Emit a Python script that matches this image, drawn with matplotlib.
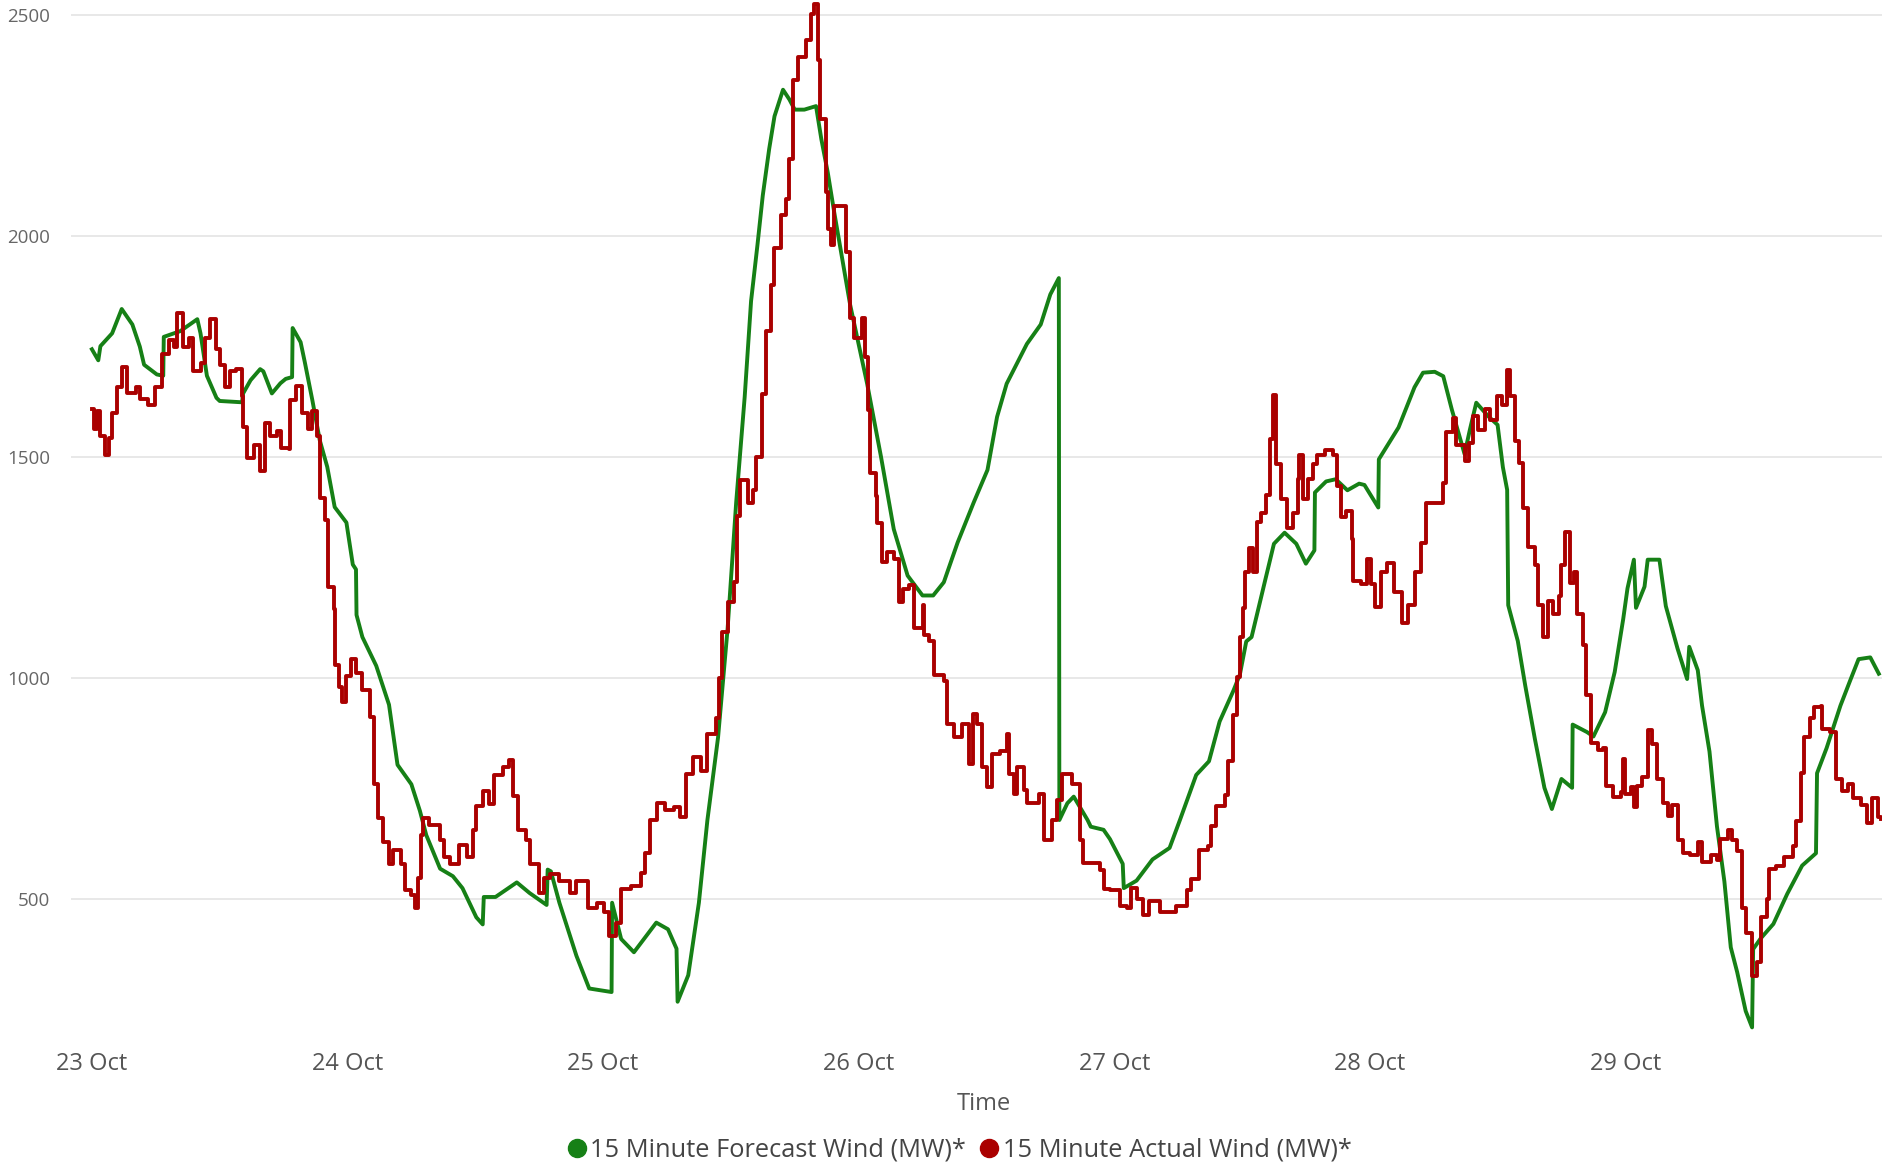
import numpy as np
import matplotlib
matplotlib.use('Agg')
import matplotlib.pyplot as plt
import matplotlib.dates as mdates
from matplotlib.lines import Line2D

plt.rcParams['font.family'] = ['Open Sans', 'DejaVu Sans']

# hours after 23 Oct 00:00
forecast_hours = [0, 0.6, 0.8, 1.9, 2.8, 3.8, 4.5, 4.9, 6.1, 6.7, 6.75, 8.3, 9.9, 10.2, 10.8, 11.7, 12.0, 14.1, 14.2, 14.9,
                  15.8, 16.1, 16.9, 17.7, 18.2, 18.8, 18.85, 19.6, 20.0, 20.7, 21.4, 22.1, 22.8, 23.9, 24.5, 24.8, 24.85,
                  25.4, 26.7, 27.9, 28.7, 30.0, 30.8, 31.4, 32.7, 33.9, 34.8, 36.1, 36.7, 36.8, 37.9, 39.9, 41.1, 42.7,
                  42.8, 43.1, 43.9, 45.5, 46.7, 48.8, 48.85, 49.7, 50.9, 53.0, 54.1, 54.9, 55.0, 56.0, 57.0, 57.8, 58.8,
                  59.7, 60.5, 61.3, 61.9, 62.5, 63.0, 63.6, 64.1, 64.9, 65.5, 66.0, 66.9, 68.0, 68.5, 69.1, 69.7, 70.4,
                  71.2, 72.2, 72.8, 74.1, 75.3, 76.6, 78.0, 79.0, 80.0, 81.3, 82.8, 84.1, 85.0, 85.9, 87.8, 89.1, 90.0,
                  90.8, 90.85, 91.6, 92.2, 93.5, 93.8, 95.0, 95.6, 96.8, 96.9, 98.1, 99.6, 101.2, 102.2, 103.7, 104.9,
                  105.9, 107.2, 107.8, 108.4, 108.9, 109.4, 110.0, 110.6, 111.0, 112.0, 113.1, 114.0, 114.8, 114.85,
                  115.9, 116.8, 117.9, 119.0, 119.5, 120.8, 120.85, 122.7, 124.2, 125.0, 126.1, 126.9, 127.7, 128.9,
                  129.4, 130.0, 131.1, 132.0, 132.5, 132.9, 133.0, 133.9, 134.6, 135.5, 136.4, 137.1, 138.0, 139.0,
                  139.05, 140.4, 141.0, 142.1, 143.0, 143.8, 144.2, 144.8, 145.0, 145.8, 146.1, 147.2, 147.8, 148.9,
                  149.8, 150.0, 150.8, 151.2, 151.9, 152.6, 153.3, 153.9, 154.5, 155.3, 155.9, 156.0, 156.7, 157.9,
                  159.2, 160.6, 161.9, 162.0, 162.9, 164.2, 165.1, 165.9, 167.0, 167.8]
forecast_mw = [1744, 1719, 1751, 1780, 1835, 1800, 1750, 1709, 1687, 1684, 1772, 1785, 1812, 1780, 1684, 1634, 1627, 1624,
               1644, 1674, 1699, 1694, 1644, 1667, 1677, 1681, 1792, 1760, 1714, 1629, 1538, 1478, 1387, 1352, 1257, 1246,
               1143, 1093, 1028, 940, 804, 760, 700, 645, 569, 552, 525, 459, 443, 505, 505, 538, 514, 487, 567, 563, 492,
               372, 298, 290, 492, 410, 380, 447, 432, 388, 268, 328, 492, 679, 866, 1113, 1397, 1636, 1853, 1980, 2092,
               2197, 2271, 2331, 2309, 2286, 2286, 2294, 2219, 2144, 2055, 1957, 1845, 1733, 1666, 1501, 1337, 1232, 1187,
               1187, 1217, 1307, 1397, 1471, 1591, 1666, 1756, 1800, 1868, 1905, 679, 717, 732, 679, 664, 657, 636, 580,
               525, 542, 590, 616, 681, 781, 812, 902, 972, 1008, 1083, 1093, 1143, 1203, 1264, 1304, 1329, 1304, 1259,
               1289, 1420, 1445, 1450, 1425, 1440, 1437, 1386, 1495, 1567, 1658, 1691, 1693, 1683, 1608, 1507, 1562, 1623,
               1593, 1573, 1477, 1426, 1165, 1084, 983, 863, 752, 704, 772, 752, 895, 878, 868, 923, 1014, 1134, 1203, 1268,
               1159, 1207, 1268, 1268, 1163, 1067, 998, 1071, 1018, 938, 834, 665, 540, 391, 335, 247, 210, 387, 411, 444,
               512, 576, 604, 785, 842, 938, 994, 1043, 1047, 1010]

actual_hours = [0, 0.16, 0.47, 0.78, 1.25, 1.56, 1.88, 2.35, 2.8, 3.3, 4.1, 4.5, 5.3, 5.9, 6.6, 7.2, 7.7, 8.0, 8.6, 9.1,
                9.5, 10.2, 10.6, 11.1, 11.7, 12.0, 12.5, 13.0, 13.5, 14.1, 14.2, 14.6, 15.2, 15.8, 16.3, 16.7, 17.4, 17.8,
                18.5, 18.6, 19.2, 19.7, 20.3, 20.7, 21.1, 21.4, 21.9, 22.2, 22.7, 22.8, 23.2, 23.5, 23.9, 24.35, 24.8,
                25.4, 26.1, 26.5, 26.9, 27.3, 27.9, 28.3, 29.0, 29.4, 30.0, 30.3, 30.6, 30.9, 31.1, 31.7, 32.3, 32.7,
                33.1, 33.6, 34.5, 35.2, 35.8, 36.1, 36.7, 37.3, 37.8, 38.6, 39.2, 39.5, 40.0, 40.8, 41.1, 41.7, 42.0,
                42.5, 43.0, 43.9, 44.9, 45.5, 46.6, 47.4, 48.1, 48.6, 49.2, 49.7, 50.6, 51.6, 51.9, 52.4, 53.1, 53.8,
                54.7, 55.2, 55.8, 56.4, 57.2, 57.8, 58.6, 58.9, 59.2, 59.7, 60.3, 60.6, 60.9, 61.6, 62.1, 62.4, 62.9,
                63.3, 63.8, 64.1, 64.7, 65.2, 65.5, 65.8, 66.3, 67.1, 67.5, 67.8, 68.2, 68.4, 68.9, 69.1, 69.4, 69.7,
                70.4, 70.8, 71.2, 71.6, 72.3, 72.6, 72.9, 73.1, 73.6, 73.7, 74.2, 74.7, 75.3, 75.8, 76.2, 76.7, 77.2,
                78.0, 78.1, 78.6, 79.1, 80.0, 80.3, 81.0, 81.7, 82.4, 82.7, 83.1, 83.6, 84.1, 84.5, 85.3, 85.9, 86.1,
                86.6, 86.9, 87.5, 87.8, 88.9, 89.4, 90.2, 90.6, 91.1, 92.0, 92.8, 93.1, 94.7, 95.0, 95.6, 96.5, 97.2,
                97.6, 98.1, 98.7, 99.3, 100.3, 101.8, 102.8, 103.2, 104.0, 104.8, 105.1, 105.6, 106.4, 106.7, 107.2,
                107.5, 107.8, 108.1, 108.3, 108.7, 109.0, 109.4, 109.8, 110.3, 110.6, 110.9, 111.2, 111.7, 112.2, 112.8,
                113.3, 113.4, 113.7, 114.2, 114.7, 115.0, 115.8, 116.5, 116.9, 117.3, 117.8, 118.3, 118.4, 119.2, 119.7,
                120.1, 120.5, 121.1, 121.6, 122.3, 123.0, 123.6, 124.2, 124.8, 125.3, 126.3, 126.9, 127.2, 127.8, 128.1,
                128.9, 129.3, 129.7, 130.2, 130.8, 131.3, 131.9, 132.4, 132.9, 133.2, 133.6, 134.0, 134.4, 134.9, 135.5,
                135.8, 136.3, 136.7, 137.2, 137.8, 138.0, 138.3, 138.8, 139.2, 139.5, 140.0, 140.3, 140.8, 141.4, 141.9,
                142.2, 142.8, 143.6, 143.8, 144.0, 144.5, 144.8, 145.1, 145.6, 146.1, 146.5, 147.0, 147.5, 148.0, 148.4,
                148.9, 149.4, 150.1, 150.8, 151.2, 152.0, 152.6, 152.9, 153.6, 154.0, 154.5, 155.0, 155.3, 155.9, 156.4,
                156.7, 157.3, 157.5, 158.1, 158.9, 159.7, 160.0, 160.5, 160.8, 161.3, 161.7, 162.4, 162.5, 163.2, 163.8,
                164.3, 164.9, 165.4, 166.1, 166.7, 167.2, 167.7, 168.0]
actual_mw = [1609, 1563, 1604, 1548, 1505, 1543, 1599, 1659, 1704, 1644, 1659, 1631, 1617, 1659, 1734, 1765, 1750, 1825,
             1750, 1770, 1694, 1714, 1770, 1812, 1744, 1709, 1659, 1694, 1699, 1639, 1568, 1498, 1528, 1468, 1578, 1548,
             1558, 1520, 1518, 1629, 1661, 1599, 1563, 1604, 1548, 1407, 1357, 1206, 1156, 1030, 980, 945, 1005, 1044,
             1011, 973, 913, 760, 684, 629, 580, 612, 580, 520, 509, 481, 547, 645, 684, 667, 667, 634, 596, 580, 623,
             596, 656, 711, 744, 716, 782, 798, 815, 733, 656, 634, 580, 580, 514, 547, 558, 541, 514, 541, 481, 492, 470,
             417, 447, 522, 530, 560, 604, 679, 717, 702, 709, 687, 784, 821, 791, 873, 911, 1000, 1105, 1172, 1217, 1367,
             1449, 1397, 1426, 1501, 1643, 1785, 1890, 1972, 2047, 2084, 2174, 2353, 2406, 2443, 2503, 2525, 2398, 2264,
             2099, 2017, 1980, 2069, 2069, 1965, 1815, 1770, 1815, 1726, 1606, 1464, 1412, 1352, 1262, 1285, 1270, 1172,
             1202, 1210, 1113, 1165, 1098, 1083, 1008, 993, 896, 866, 896, 806, 918, 896, 799, 754, 829, 836, 873, 784,
             739, 799, 746, 717, 739, 634, 679, 724, 784, 761, 634, 582, 567, 522, 520, 485, 480, 525, 500, 465, 495, 472,
             485, 520, 545, 611, 621, 666, 711, 736, 812, 917, 1003, 1093, 1158, 1239, 1294, 1239, 1354, 1374, 1415, 1540,
             1641, 1485, 1405, 1339, 1374, 1450, 1505, 1405, 1450, 1485, 1505, 1515, 1505, 1435, 1364, 1379, 1314, 1219,
             1214, 1269, 1214, 1160, 1240, 1260, 1195, 1124, 1165, 1240, 1306, 1396, 1396, 1442, 1557, 1588, 1527, 1492,
             1532, 1593, 1562, 1608, 1583, 1638, 1618, 1696, 1638, 1537, 1487, 1386, 1296, 1255, 1165, 1094, 1175, 1145,
             1185, 1255, 1331, 1215, 1240, 1145, 1074, 963, 853, 838, 843, 757, 732, 742, 818, 737, 753, 709, 757, 777,
             882, 850, 773, 717, 689, 713, 633, 604, 600, 629, 584, 600, 588, 637, 657, 633, 608, 480, 424, 327, 359, 460,
             500, 568, 576, 596, 621, 677, 785, 866, 910, 934, 938, 886, 878, 773, 745, 761, 729, 713, 673, 729, 685, 681]

day_ticks = ['2023-10-23', '2023-10-24', '2023-10-25', '2023-10-26', '2023-10-27', '2023-10-28', '2023-10-29']

start = np.datetime64('2023-10-23T00:00')


def to_dates(hours):
    return start + (np.array(hours) * 60).round().astype('timedelta64[m]')


GREEN = '#168016'
RED = '#aa0000'

fig = plt.figure(figsize=(18.82, 11.65), dpi=100)
ax = fig.add_axes([0.0377, 0.109, 0.9623, 0.891])

ax.plot(to_dates(forecast_hours), forecast_mw, color=GREEN, lw=2.8)
ax.plot(to_dates(actual_hours), actual_mw, color=RED, lw=2.8, drawstyle='steps-post')

ax.set_ylim(186, 2534)
ax.set_xlim(to_dates([-1.97])[0], to_dates([168.1])[0])
ax.set_yticks([500, 1000, 1500, 2000, 2500])
ax.set_xticks(np.array(day_ticks, dtype='datetime64[m]'))
ax.xaxis.set_major_formatter(mdates.DateFormatter('%d %b'))

ax.grid(axis='y', color='#e6e6e6', lw=1.3)
ax.set_axisbelow(True)
for s in ax.spines.values():
    s.set_visible(False)
ax.tick_params(axis='y', length=0, pad=15, labelsize=13.5, labelcolor='#666666')
ax.tick_params(axis='x', length=0, pad=10, labelsize=17, labelcolor='#555555')
ax.set_xlabel('Time', fontsize=17, color='#555555', labelpad=12)
ax.xaxis.set_label_coords(0.504, -0.052)

handles = [Line2D([], [], ls='none', marker='o', ms=13, color=GREEN),
           Line2D([], [], ls='none', marker='o', ms=13, color=RED)]
fig.legend(handles, ['15 Minute Forecast Wind (MW)*', '15 Minute Actual Wind (MW)*'],
           loc='center', bbox_to_anchor=(0.509, 0.0125), ncol=2, frameon=False,
           fontsize=18.3, labelcolor='#444444', handletextpad=0.05, columnspacing=0.4,
           handlelength=1.0, borderaxespad=0)

fig.savefig('out.png', dpi=100)
